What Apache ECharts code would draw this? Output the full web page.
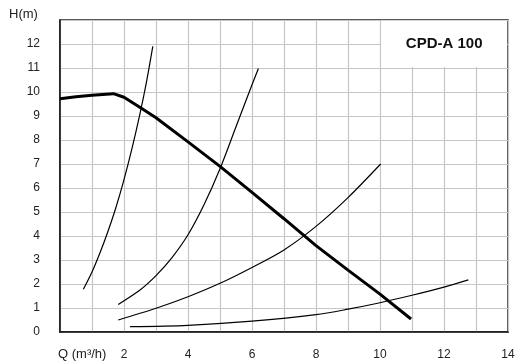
<!DOCTYPE html>
<html>
<head>
<meta charset="utf-8">
<script src="https://cdn.jsdelivr.net/npm/echarts@6/dist/echarts.min.js"></script>
<style>
  html, body { margin: 0; padding: 0; background: #fff; }
  #chart { width: 521px; height: 363px; }
</style>
</head>
<body>
<div id="chart"></div>
<script>
// pump curve (thick) and system curves (thin), [Q, H]
var pumpCurve = [[0, 9.72], [0.5, 9.8], [1, 9.86], [1.67, 9.93], [2, 9.78], [2.58, 9.29], [3, 8.93],
  [4, 7.92], [5, 6.9], [6, 5.82], [7, 4.72], [8, 3.6], [9, 2.58], [10, 1.58], [10.97, 0.54]]
var sysCurve1 = [[0.73, 1.78], [1, 2.5], [1.25, 3.3], [1.5, 4.2], [1.75, 5.2], [2, 6.35], [2.25, 7.65],
  [2.5, 9.1], [2.7, 10.4], [2.9, 11.9]]
var sysCurve2 = [[1.82, 1.15], [2.5, 1.75], [3, 2.35], [3.5, 3.1], [4, 4.05], [4.5, 5.3], [5, 6.8],
  [5.5, 8.55], [6, 10.3], [6.2, 10.98]]
var sysCurve3 = [[1.82, 0.5], [3, 0.99], [4, 1.47], [5, 2.03], [6, 2.69], [7, 3.42], [8, 4.4],
  [9, 5.6], [10.02, 7.0]]
var sysCurve4 = [[2.19, 0.22], [4, 0.28], [6, 0.45], [8, 0.72], [9, 0.95], [10, 1.22], [11, 1.53],
  [12, 1.87], [12.76, 2.17]]
var title = 'CPD-A 100'

var font = 'Liberation Sans, Arial, sans-serif'

function thin(data) {
  return {
    type: 'line',
    data: data,
    smooth: 0.3,
    symbol: 'none',
    lineStyle: { color: '#000', width: 1.2 },
    z: 3
  }
}

var option = {
  animation: false,
  backgroundColor: '#fff',
  grid: {
    left: 60, right: 13, top: 20, bottom: 31,
    show: true,
    borderColor: '#222',
    borderWidth: 1.5
  },
  graphic: [
    { type: 'text', left: 9, top: 8, style: { text: 'H(m)', font: '13px ' + font, fill: '#222' } },
    { type: 'text', left: 58, top: 348, style: { text: 'Q (m³/h)', font: '13px ' + font, fill: '#222' } }
  ],
  xAxis: {
    type: 'value',
    min: 0, max: 14, interval: 1,
    axisLine: { lineStyle: { color: '#111', width: 1.5 } },
    axisTick: { show: false },
    splitLine: { lineStyle: { color: '#c6c6c6', width: 1.2 } },
    axisLabel: {
      margin: 17, fontSize: 12, fontFamily: font, color: '#222',
      formatter: function (v) { return (v > 0 && v % 2 === 0) ? String(v) : '' }
    }
  },
  yAxis: {
    type: 'value',
    min: 0, max: 13, interval: 1,
    axisLine: { show: true, lineStyle: { color: '#111', width: 1.5 } },
    axisTick: { show: false },
    splitLine: { lineStyle: { color: '#c6c6c6', width: 1.2 } },
    axisLabel: {
      margin: 20, fontSize: 12, fontFamily: font, color: '#222',
      formatter: function (v) { return v <= 12 ? String(v) : '' }
    }
  },
  series: [
    {
      type: 'line',
      data: pumpCurve,
      symbol: 'none',
      lineStyle: { color: '#000', width: 3 },
      z: 4,
      markArea: {
        silent: true,
        itemStyle: { color: '#fff' },
        label: {
          show: true, position: 'inside', color: '#111',
          fontSize: 15, fontWeight: 'bold', fontFamily: font
        },
        data: [[{ name: title, coord: [10.04, 11.04] }, { coord: [13.97, 12.97] }]]
      }
    },
    thin(sysCurve1),
    thin(sysCurve2),
    thin(sysCurve3),
    thin(sysCurve4)
  ]
}

var myChart = echarts.init(document.getElementById('chart'))
myChart.setOption(option)
</script>
</body>
</html>
